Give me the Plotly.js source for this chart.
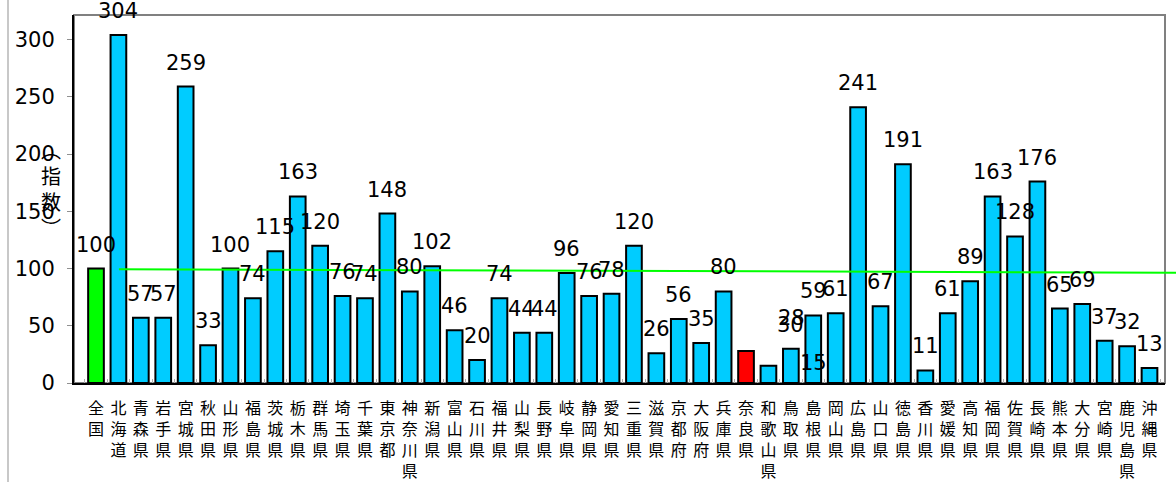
<!DOCTYPE html>
<html>
<head>
<meta charset="utf-8">
<script src="https://cdn.plot.ly/plotly-3.0.1.min.js"></script>
<style>html,body{margin:0;padding:0;background:#fff;}#chart{width:1176px;height:482px;}</style>
</head>
<body>
<div id="chart"></div>
<script>
const categories = ["全国","北海道","青森県","岩手県","宮城県","秋田県","山形県","福島県","茨城県","栃木県","群馬県","埼玉県","千葉県","東京都","神奈川県","新潟県","富山県","石川県","福井県","山梨県","長野県","岐阜県","静岡県","愛知県","三重県","滋賀県","京都府","大阪府","兵庫県","奈良県","和歌山県","鳥取県","島根県","岡山県","広島県","山口県","徳島県","香川県","愛媛県","高知県","福岡県","佐賀県","長崎県","熊本県","大分県","宮崎県","鹿児島県","沖縄県"];
const values = [100,304,57,57,259,33,100,74,115,163,120,76,74,148,80,102,46,20,74,44,44,96,76,78,120,26,56,35,80,28,15,30,59,61,241,67,191,11,61,89,163,128,176,65,69,37,32,13];
const referenceLine = [99.3, 96.4];
const yTicks = [0,50,100,150,200,250,300];
const yTitle = "︵指数︶";

const colors = categories.map(c => c === "全国" ? "#00ff00" : (c === "奈良県" ? "#ff0000" : "#00ccff"));
const tickText = categories.map(c => c.split("").join("<br>"));

const numFont = {family: "DejaVu Sans", stretch: "condensed", size: 21, color: "#000"};

const annotations = categories.map((c, i) => {
  let xs = 0, ys = 24;
  if (c === "奈良県") { xs = 45; ys = 33; }
  if (c === "和歌山県") { xs = 45; ys = 3; }
  return {x: c, y: values[i], xref: "x", yref: "y", text: String(values[i]), showarrow: false,
          xshift: xs, yshift: ys, font: numFont, xanchor: "center", yanchor: "middle"};
});
annotations.push({xref: "paper", yref: "paper", x: -0.021, y: 0.377, xanchor: "center", yanchor: "bottom",
  text: yTitle.split("").join("<br>"), showarrow: false,
  font: {family: "Noto Sans CJK JP, sans-serif", size: 20, color: "#000"}});

const trace = {
  type: "bar", x: categories, y: values,
  marker: {color: colors, line: {color: "#000", width: 2}},
  hoverinfo: "none"
};

const layout = {
  width: 1176, height: 482,
  margin: {l: 74, r: 11, t: 15, b: 99},
  paper_bgcolor: "#fff", plot_bgcolor: "#fff",
  showlegend: false, bargap: 0.3,
  xaxis: {
    type: "category", tickvals: categories, ticktext: tickText, tickangle: 0,
    showline: true, linecolor: "#000", linewidth: 2, showgrid: false,
    ticks: "inside", tickson: "boundaries", ticklen: 4, tickcolor: "#b0b0b0",
    ticklabelstandoff: 10,
    tickfont: {family: "Noto Sans CJK JP, sans-serif", size: 16, color: "#000"}
  },
  yaxis: {
    range: [0, 321.5], tickvals: yTicks, showline: true, linecolor: "#000", linewidth: 2,
    showgrid: false, zeroline: false, ticks: "outside", ticklen: 5, tickcolor: "#909090",
    ticklabelstandoff: 8,
    tickfont: {family: "DejaVu Sans", stretch: "condensed", size: 21, color: "#000"}
  },
  annotations: annotations,
  shapes: [
    {type: "rect", xref: "paper", yref: "paper", x0: 0, x1: 1, y0: 0, y1: 1, line: {color: "#808080", width: 2}, layer: "below"},
    {type: "line", xref: "paper", yref: "paper", x0: -0.0605, x1: -0.0605, y0: -0.28, y1: 1.05, line: {color: "#c8c8c8", width: 2}},
    {type: "line", xref: "paper", yref: "y", x0: 0.0412, x1: 1.02, y0: referenceLine[0], y1: referenceLine[1], line: {color: "#00ff00", width: 2}}
  ]
};

Plotly.newPlot("chart", [trace], layout, {staticPlot: true, displayModeBar: false});
</script>
</body>
</html>
